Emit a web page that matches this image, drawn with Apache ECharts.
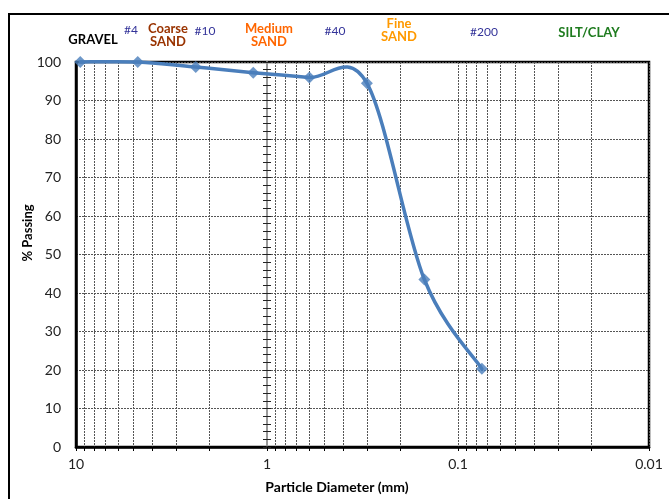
<!DOCTYPE html>
<html>
<head>
<meta charset="utf-8">
<script src="https://cdn.jsdelivr.net/npm/echarts@6/dist/echarts.min.js"></script>
<style>html,body{margin:0;padding:0;background:#fff;}#c{width:669px;height:499px;}</style>
</head>
<body>
<div id="c"></div>
<script>
// Data
var sieveSizes = [9.5, 4.75, 2.36, 1.18, 0.6, 0.3, 0.15, 0.075];
var percentPassing = [100, 100, 98.7, 97.2, 96.0, 94.5, 43.5, 20.3];
var xMajorTicks = [10, 1, 0.1, 0.01];
var xMinorTicks = [10, 9, 8, 7, 6, 5, 4, 3, 2, 1, 0.9, 0.8, 0.7, 0.6, 0.5, 0.4, 0.3, 0.2, 0.1,
                   0.09, 0.08, 0.07, 0.06, 0.05, 0.04, 0.03, 0.02, 0.01];
var topLabels = [
  {t: 'GRAVEL', x: 93, y: 40, c: '#000000', b: true},
  {t: '#4', x: 131, y: 30, c: '#333399', b: false},
  {t: 'Coarse\nSAND', x: 168, y: 35, c: '#993300', b: true},
  {t: '#10', x: 205, y: 31, c: '#333399', b: false},
  {t: 'Medium\nSAND', x: 269, y: 35, c: '#ff6600', b: true},
  {t: '#40', x: 335, y: 31, c: '#333399', b: false},
  {t: 'Fine\nSAND', x: 399, y: 30, c: '#ff9900', b: true},
  {t: '#200', x: 484, y: 32, c: '#333399', b: false},
  {t: 'SILT/CLAY', x: 589, y: 33, c: '#1e7b1e', b: true}
];

var FONT = 'Lato, "Liberation Sans", sans-serif';
var LINE_COLOR = '#4a7ebb';
var chart = echarts.init(document.getElementById('c'));
var pts = sieveSizes.map(function (s, i) { return [s, percentPassing[i]]; });

var graphics = [{
  type: 'rect', shape: {x: 9, y: 14, width: 700, height: 600},
  style: {fill: 'none', stroke: '#000', lineWidth: 2}, z: 100
}, {
  type: 'text', x: 28, y: 233, rotation: Math.PI / 2, z: 100,
  style: {text: '% Passing', fill: '#000', font: 'bold 13px ' + FONT, textAlign: 'center', textVerticalAlign: 'middle'}
}, {
  type: 'text', x: 337, y: 487, z: 100,
  style: {text: 'Particle Diameter (mm)', fill: '#000', font: 'bold 14px ' + FONT, textAlign: 'center', textVerticalAlign: 'middle'}
}];
topLabels.forEach(function (l) {
  graphics.push({
    type: 'text', x: l.x, y: l.y, z: 100,
    style: {text: l.t, fill: l.c, font: (l.b ? 'bold 13px ' : '12px ') + FONT,
            textAlign: 'center', textVerticalAlign: 'middle', lineHeight: 13}
  });
});

var secAxisBase = {
  type: 'value', min: 0, max: 100, interval: 10, position: 'left', offset: -191,
  axisLine: {show: true, lineStyle: {color: '#999', width: 2}},
  axisLabel: {show: false}, splitLine: {show: false},
  axisTick: {show: true, length: 4, lineStyle: {color: '#222', width: 1}},
  minorTick: {show: true, splitNumber: 5, length: 4, lineStyle: {color: '#222', width: 1}}
};

// Excel-style smoothed curve (Catmull-Rom -> Bezier) through the data points, in pixel space
function renderCurve(params, api) {
  if (params.dataIndex !== 0) return null;
  var c = pts.map(function (p) { return api.coord(p); });
  var n = c.length;
  var d = 'M' + c[0][0] + ' ' + c[0][1];
  for (var i = 0; i < n - 1; i++) {
    var p0 = c[Math.max(i - 1, 0)], p1 = c[i], p2 = c[i + 1], p3 = c[Math.min(i + 2, n - 1)];
    var c1x = p1[0] + (p2[0] - p0[0]) / 6, c1y = p1[1] + (p2[1] - p0[1]) / 6;
    var c2x = p2[0] - (p3[0] - p1[0]) / 6, c2y = p2[1] - (p3[1] - p1[1]) / 6;
    d += ' C' + c1x + ' ' + c1y + ' ' + c2x + ' ' + c2y + ' ' + p2[0] + ' ' + p2[1];
  }
  return {
    type: 'path', shape: {pathData: d},
    style: {fill: 'none', stroke: LINE_COLOR, lineWidth: 3.5, lineJoin: 'round', lineCap: 'round'}
  };
}

chart.setOption({
  animation: false,
  graphic: graphics,
  grid: {left: 76, right: 20, top: 62, bottom: 52, show: true, borderColor: '#000', borderWidth: 2.5, backgroundColor: 'transparent'},
  xAxis: {
    type: 'log', logBase: 10, min: 0.01, max: 10, inverse: true,
    axisLine: {show: true, lineStyle: {color: '#000', width: 2.5}},
    axisTick: {show: true, customValues: xMinorTicks, length: 4, lineStyle: {color: '#000'}},
    axisLabel: {customValues: xMajorTicks, fontFamily: FONT, fontSize: 14, color: '#222', margin: 10,
                formatter: function (v) { return String(+v.toPrecision(3)); }},
    splitLine: {show: true, lineStyle: {color: '#555', type: [2, 1], width: 1}}
  },
  yAxis: [{
    type: 'value', min: 0, max: 100, interval: 10,
    axisLine: {show: true, lineStyle: {color: '#000', width: 2.5}},
    axisTick: {show: false},
    axisLabel: {fontFamily: FONT, fontSize: 14, color: '#222', margin: 15},
    splitLine: {show: true, lineStyle: {color: '#555', type: [2, 1], width: 1}}
  },
  echarts.util.merge({axisTick: {inside: false}, minorTick: {}}, secAxisBase, true),
  echarts.util.merge({axisLine: {show: false}, axisTick: {inside: true}}, secAxisBase, false)
  ],
  series: [{
    type: 'custom', data: pts, renderItem: renderCurve, z: 10, silent: true
  }, {
    type: 'scatter', data: pts, symbol: 'diamond', symbolSize: 12,
    itemStyle: {color: LINE_COLOR}, z: 11
  }]
});
</script>
</body>
</html>
